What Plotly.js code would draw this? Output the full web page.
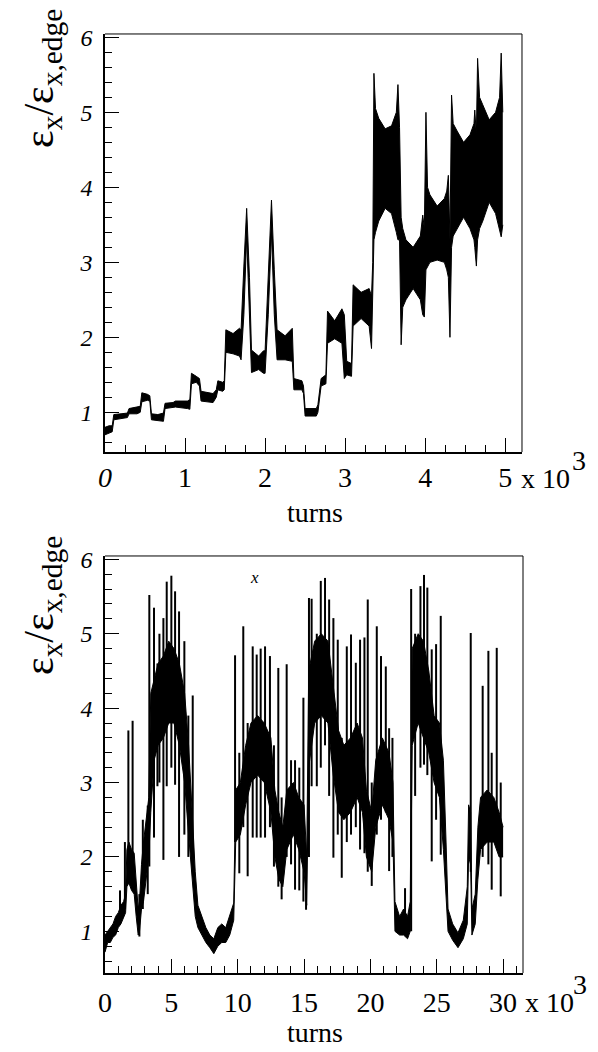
<!DOCTYPE html>
<html>
<head>
<meta charset="utf-8">
<script src="https://cdn.plot.ly/plotly-3.0.1.min.js"></script>
<style>html,body{margin:0;padding:0;background:#fff;}#plot{width:598px;height:1052px;}</style>
</head>
<body>
<div id="plot"></div>
<script>
// ---------- Top panel: 0 - 5 x10^3 turns (band envelopes) ----------
const topX  = [0.00,0.05,0.09,0.11,0.20,0.28,0.30,0.40,0.44,0.46,0.53,0.56,0.58,0.66,0.73,0.75,0.85,0.88,1.03,1.06,
               1.08,1.14,1.18,1.20,1.35,1.39,1.41,1.47,1.49,1.51,1.60,1.68,1.70,1.735,1.77,1.805,1.83,1.92,1.98,2.00,
               2.04,2.08,2.115,2.15,2.25,2.34,2.36,2.46,2.48,2.50,2.64,2.66,2.70,2.76,2.78,2.87,2.96,2.99,3.02,3.08,
               3.10,3.20,3.30,3.33,3.345,3.36,3.38,3.42,3.50,3.58,3.64,3.66,3.68,3.70,3.72,3.76,3.85,3.94,3.97,3.99,
               4.01,4.03,4.06,4.15,4.24,4.27,4.29,4.31,4.33,4.35,4.40,4.48,4.56,4.61,4.62,4.64,4.655,4.68,4.72,4.80,
               4.88,4.93,4.95,4.97];
const topHi = [0.80,0.82,0.82,0.97,0.98,0.99,1.05,1.07,1.08,1.26,1.24,1.22,0.98,0.97,0.99,1.12,1.13,1.15,1.15,1.17,
               1.52,1.48,1.45,1.28,1.25,1.30,1.42,1.40,1.42,2.10,2.05,2.12,2.10,2.95,3.72,2.80,1.83,1.75,1.82,1.82,
               2.95,3.83,2.90,2.10,2.02,2.12,1.45,1.42,1.35,1.05,1.05,1.10,1.45,1.50,2.35,2.22,2.38,2.30,1.68,1.65,
               2.70,2.60,2.65,2.55,3.00,5.52,5.05,4.92,4.78,4.82,5.00,5.37,4.80,3.60,3.45,3.30,3.20,3.35,3.63,3.45,
               5.00,4.00,3.90,3.75,3.85,3.95,4.16,3.30,5.23,4.85,4.75,4.60,4.70,4.85,5.03,4.70,5.72,5.20,5.10,4.90,
               5.00,5.20,5.79,5.00];
const topLo = [0.70,0.72,0.74,0.90,0.92,0.93,0.98,0.98,1.00,1.14,1.16,1.15,0.90,0.89,0.88,1.05,1.06,1.07,1.05,1.04,
               1.38,1.40,1.35,1.15,1.13,1.20,1.30,1.28,1.30,1.80,1.78,1.75,1.70,2.30,3.35,2.20,1.53,1.57,1.52,1.52,
               2.30,3.40,2.30,1.70,1.70,1.68,1.30,1.30,1.25,0.95,0.95,1.00,1.35,1.38,1.92,1.98,1.92,1.45,1.50,1.48,
               2.15,2.25,2.15,1.85,2.50,3.30,3.40,3.55,3.72,3.65,3.40,3.30,3.30,1.90,2.40,2.50,2.65,2.50,2.30,2.27,
               2.90,2.95,3.00,3.03,3.00,2.90,2.80,2.00,3.20,3.35,3.45,3.60,3.45,3.30,3.20,2.95,3.30,3.45,3.55,3.80,
               3.65,3.45,3.34,3.50];
const topTickVals = [0,1,2,3,4,5];
const topTickText = ['<i>0</i>','1','2','3','4','5'];

// ---------- Bottom panel: 0 - 30 x10^3 turns ----------
const botX  = [0.0,0.2,0.4,0.6,0.8,1.0,1.2,1.4,1.55,1.65,1.8,2.0,2.2,2.35,2.5,2.6,2.75,2.9,3.1,3.3,
               3.45,3.7,4.0,4.4,4.8,5.2,5.6,6.0,6.3,6.6,6.8,7.0,7.3,7.6,7.9,8.2,8.5,8.8,9.1,9.4,
               9.7,9.85,10.2,10.6,11.0,11.5,12.0,12.5,12.8,13.1,13.4,13.7,14.2,14.6,15.0,15.2,15.35,15.8,16.3,16.8,
               17.2,17.6,18.0,18.5,19.0,19.4,19.7,20.1,20.4,20.9,21.4,21.7,21.85,22.2,22.5,22.8,23.0,23.15,23.6,24.0,
               24.4,24.8,25.2,25.5,25.7,25.85,26.2,26.6,27.0,27.3,27.4,27.55,27.65,27.9,28.1,28.3,28.8,29.3,29.7,30.0];
const botHi = [0.95,1.00,1.05,1.10,1.20,1.25,1.35,1.40,1.50,2.10,2.20,2.10,2.05,1.70,1.30,1.40,1.90,2.20,2.50,2.80,
               4.20,4.40,4.60,4.70,4.90,4.80,4.60,4.20,3.50,2.50,1.80,1.35,1.20,1.05,0.95,0.90,1.05,1.10,1.05,1.20,
               1.38,2.90,3.00,3.50,3.80,3.90,3.80,3.60,2.90,2.60,2.40,2.90,3.00,2.80,2.70,2.00,4.50,4.90,5.00,4.90,
               4.30,3.70,3.50,3.60,3.80,3.60,2.90,2.60,3.30,3.60,3.40,3.00,1.40,1.20,1.30,1.20,1.40,4.80,5.00,4.90,
               4.50,3.90,3.80,3.30,2.20,1.30,1.10,0.98,1.15,1.60,2.70,2.60,1.30,1.50,2.40,2.80,2.90,2.80,2.60,2.40];
const botLo = [0.72,0.85,0.85,0.92,0.95,1.05,1.10,1.20,1.25,1.60,1.65,1.55,1.50,1.20,0.95,1.00,1.30,1.40,1.70,2.00,
               2.60,3.30,3.50,3.60,3.80,3.80,3.50,3.00,2.30,1.60,1.20,1.05,0.95,0.85,0.78,0.70,0.80,0.85,0.85,0.95,
               1.15,2.20,2.30,2.70,3.00,3.10,3.00,2.60,2.00,1.70,1.60,2.10,2.30,2.10,1.80,1.35,3.20,3.80,3.90,3.80,
               3.10,2.60,2.50,2.60,2.80,2.60,2.00,1.80,2.40,2.70,2.50,2.20,1.00,0.95,0.95,0.90,1.00,3.50,3.80,3.60,
               3.40,3.00,2.80,2.10,1.40,1.00,0.88,0.78,0.90,1.10,2.00,1.90,0.95,1.10,1.70,2.10,2.20,2.20,2.00,2.00];
// individual spikes: position, top and bottom value
const spkX   = [1.13,1.50,1.76,2.08,2.59,2.85,3.22,3.34,3.69,3.95,4.10,4.40,4.65,5.00,5.28,5.58,5.98,6.28,6.61,
                9.80,10.12,10.42,10.75,11.13,11.43,11.73,12.06,12.43,12.73,13.06,13.31,13.69,14.02,14.32,14.64,14.95,15.15,
                15.37,15.57,15.96,16.26,16.58,16.89,17.21,17.54,17.84,18.22,18.54,18.90,19.22,19.55,19.80,20.10,20.48,20.80,
                21.16,21.41,21.66,22.61,23.07,23.37,23.77,24.04,24.29,24.62,24.95,25.30,27.56,28.46,28.89,29.14,29.52,29.82];
const spkTop = [1.55,2.20,3.70,3.83,1.50,2.50,2.69,5.52,5.35,4.60,5.00,5.21,5.70,5.78,5.57,5.30,4.90,3.90,4.17,
                4.71,3.40,5.10,3.80,4.83,4.72,4.80,4.83,4.70,3.50,4.54,2.80,4.59,3.30,3.30,3.20,4.14,2.00,
                5.48,5.47,5.00,5.71,5.75,5.46,5.21,4.92,3.60,4.83,4.99,4.61,4.92,4.95,5.46,3.00,5.10,4.70,
                4.56,3.73,3.60,1.58,5.60,5.00,5.64,5.79,5.62,4.79,4.86,5.24,5.01,4.30,4.77,3.40,4.81,3.00];
const spkBot = [1.10,1.30,1.70,1.60,0.93,1.30,1.50,1.87,2.26,2.95,3.00,1.96,2.95,3.20,2.97,2.00,2.30,2.00,1.80,
                2.20,1.78,2.40,1.74,2.26,2.26,2.26,2.26,2.40,1.87,1.60,1.43,2.00,1.90,1.56,1.55,1.40,1.29,
                2.00,2.95,2.95,3.20,3.50,2.82,1.99,2.30,1.72,2.20,2.30,2.40,2.10,2.05,1.80,1.61,2.30,2.50,
                2.60,1.81,2.00,0.95,1.00,2.82,3.20,3.24,3.10,1.94,2.50,2.03,1.80,2.00,1.90,1.56,2.20,1.47];

// build spike segments from the arrays
const segX = [], segY = [];
spkX.forEach((x, i) => { segX.push(x, x, null); segY.push(spkBot[i], spkTop[i], null); });

const blk = 'black';
const traces = [
  {x: topX, y: topLo, xaxis:'x', yaxis:'y', mode:'lines', line:{color:blk, width:1}, hoverinfo:'skip'},
  {x: topX, y: topHi, xaxis:'x', yaxis:'y', mode:'lines', line:{color:blk, width:1}, fill:'tonexty', fillcolor:blk, hoverinfo:'skip'},
  {x: botX, y: botLo, xaxis:'x2', yaxis:'y2', mode:'lines', line:{color:blk, width:1}, hoverinfo:'skip'},
  {x: botX, y: botHi, xaxis:'x2', yaxis:'y2', mode:'lines', line:{color:blk, width:1}, fill:'tonexty', fillcolor:blk, hoverinfo:'skip'},
  {x: segX, y: segY, xaxis:'x2', yaxis:'y2', mode:'lines', line:{color:blk, width:2}, connectgaps:false, hoverinfo:'skip'}
];

const serif = 'Liberation Serif';
function xax(extra){
  return Object.assign({
    ticks:'inside', ticklen:14, tickwidth:1, tickcolor:blk,
    showline:true, linewidth:1.6, linecolor:blk, mirror:false,
    showgrid:false, zeroline:false, fixedrange:true,
    tickfont:{family:serif, size:28, color:blk}, ticklabelstandoff:4
  }, extra);
}
function yax(extra){
  return Object.assign({
    ticks:'inside', ticklen:14, tickwidth:1, tickcolor:blk,
    showline:true, linewidth:1.6, linecolor:blk, mirror:false,
    showgrid:false, zeroline:false, fixedrange:true,
    tickmode:'linear', tick0:0, dtick:1,
    minor:{tickmode:'linear', tick0:0, dtick:0.2, ticks:'inside', ticklen:7, tickwidth:1, tickcolor:blk},
    tickfont:{family:serif, size:24, color:blk, style:'italic'}, ticklabelstandoff:6
  }, extra);
}

const ytitle = 'ε<sub>x</sub>/ε<sub>x,edge</sub>';
const annFont = {family:serif, size:28, color:blk};
const layout = {
  width:598, height:1052, margin:{l:0, r:0, t:0, b:0},
  paper_bgcolor:'white', plot_bgcolor:'white', showlegend:false,
  font:{family:serif, color:blk},
  xaxis: xax({domain:[0.1756,0.8729], anchor:'y', range:[0,5.21], tickmode:'array', tickvals:topTickVals, ticktext:topTickText,
              ticklabelstandoff:0,
              minor:{tickmode:'linear', tick0:0, dtick:0.25, ticks:'inside', ticklen:7, tickwidth:1, tickcolor:blk}}),
  yaxis: yax({domain:[0.5703,0.9677], anchor:'x', range:[0.47,6.045]}),
  xaxis2: xax({domain:[0.1756,0.8746], anchor:'y2', range:[0,31.5], tickmode:'linear', tick0:0, dtick:5,
              minor:{tickmode:'linear', tick0:0, dtick:1, ticks:'inside', ticklen:7, tickwidth:1, tickcolor:blk}}),
  yaxis2: yax({domain:[0.0751,0.4715], anchor:'x2', range:[0.44,6.045]}),
  shapes: [
    {type:'line', xref:'x domain', yref:'y domain', x0:0, x1:1, y0:1, y1:1, line:{color:blk, width:1}},
    {type:'line', xref:'x domain', yref:'y domain', x0:1, x1:1, y0:0, y1:1, line:{color:blk, width:1}},
    {type:'line', xref:'x2 domain', yref:'y2 domain', x0:0, x1:1, y0:1, y1:1, line:{color:blk, width:1}},
    {type:'line', xref:'x2 domain', yref:'y2 domain', x0:1, x1:1, y0:0, y1:1, line:{color:blk, width:1}}
  ],
  annotations: [
    {text:ytitle, xref:'paper', yref:'paper', x:0.0702, y:0.9259, xanchor:'center', yanchor:'middle', textangle:-90, showarrow:false, font:{family:serif, size:42, color:blk}},
    {text:ytitle, xref:'paper', yref:'paper', x:0.0702, y:0.4249, xanchor:'center', yanchor:'middle', textangle:-90, showarrow:false, font:{family:serif, size:42, color:blk}},
    {text:'turns', xref:'paper', yref:'paper', x:0.5268, y:0.5133, xanchor:'center', yanchor:'middle', showarrow:false, font:annFont},
    {text:'turns', xref:'paper', yref:'paper', x:0.5268, y:0.0190, xanchor:'center', yanchor:'middle', showarrow:false, font:annFont},
    {text:'x 10', xref:'paper', yref:'paper', x:0.9130, y:0.5447, xanchor:'center', yanchor:'middle', showarrow:false, font:annFont},
    {text:'3', xref:'paper', yref:'paper', x:0.9682, y:0.5618, xanchor:'center', yanchor:'middle', showarrow:false, font:annFont},
    {text:'x 10', xref:'paper', yref:'paper', x:0.9197, y:0.0466, xanchor:'center', yanchor:'middle', showarrow:false, font:annFont},
    {text:'3', xref:'paper', yref:'paper', x:0.9699, y:0.0637, xanchor:'center', yanchor:'middle', showarrow:false, font:annFont},
    {text:'<i>x</i>', xref:'paper', yref:'paper', x:0.4264, y:0.4506, xanchor:'center', yanchor:'middle', showarrow:false, font:{family:serif, size:17, color:blk}}
  ]
};

Plotly.newPlot('plot', traces, layout, {staticPlot:true, displayModeBar:false});
</script>
</body>
</html>
